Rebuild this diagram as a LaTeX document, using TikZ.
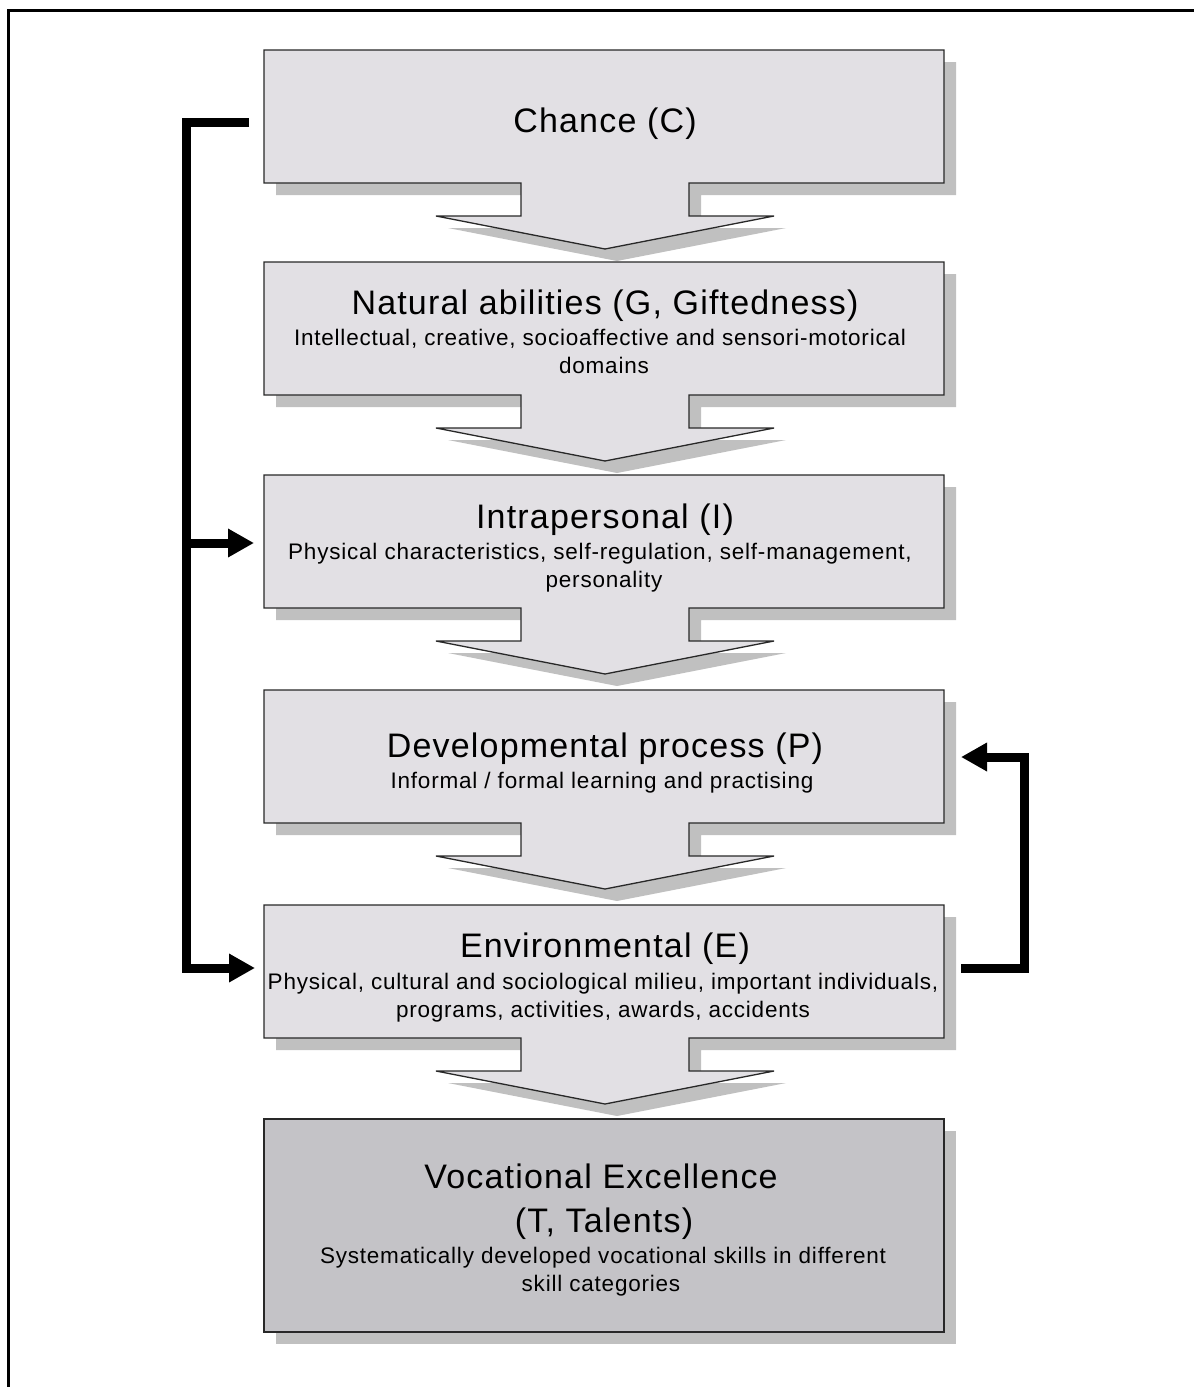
\documentclass[tikz,border=0pt]{standalone}
\usepackage{fontspec}
\setmainfont{Liberation Sans}
\newfontfamily\ttlfont[LetterSpace=3.5]{Liberation Sans}
\newfontfamily\subfont[LetterSpace=3.5]{Liberation Sans}
\usetikzlibrary{arrows.meta}
\definecolor{boxgray}{RGB}{226,224,228}
\definecolor{darkbox}{RGB}{196,195,199}
\definecolor{shadowgray}{RGB}{192,192,192}
\definecolor{edgecol}{RGB}{40,40,40}
\tikzset{
  shapeline/.style={draw=edgecol, line width=1.3, line join=miter},
  ttl/.style={font=\ttlfont\fontsize{34}{38}\selectfont, inner sep=0, anchor=base},
  subt/.style={font=\subfont\fontsize{22.5}{28}\selectfont, inner sep=0, anchor=base},
  link/.style={line width=9, line join=miter},
  linkarrow/.style={link, -{Triangle[length=26,width=27]}},
}
\newcommand\arrowbox[2]{%
  \fill[shadowgray, shift={(12,12)}] (264,#1) -- (944,#1) -- (944,#2) -- (689,#2) -- (689,{#2+33}) -- (774,{#2+33}) -- (605,{#2+66}) -- (436,{#2+33}) -- (521,{#2+33}) -- (521,#2) -- (264,#2) -- cycle;
  \filldraw[shapeline, fill=boxgray] (264,#1) -- (944,#1) -- (944,#2) -- (689,#2) -- (689,{#2+33}) -- (774,{#2+33}) -- (605,{#2+66}) -- (436,{#2+33}) -- (521,{#2+33}) -- (521,#2) -- (264,#2) -- cycle;
}
\begin{document}
\begin{tikzpicture}[x=1pt, y=-1pt]
\useasboundingbox (0,0) rectangle (1194,1387);
\fill[white] (0,0) rectangle (1194,1387);
\draw[line width=2.5] (8.5,1387) -- (8.5,10.5) -- (1194,10.5);

% boxes with downward arrows
\arrowbox{50}{183}
\arrowbox{262}{395}
\arrowbox{475}{608}
\arrowbox{690}{823}
\arrowbox{905}{1038}
\fill[shadowgray] (276,1131) rectangle (956,1344);
\filldraw[shapeline, fill=darkbox] (264,1119) rectangle (944,1332);

% texts
\node[ttl] (C) at (605,132) {Chance (C)};

\node[ttl] (G) at (605,314) {Natural abilities (G, Giftedness)};
\node[subt] (G1) at (600,345) {Intellectual, creative, socioaffective and sensori-motorical};
\node[subt] (G2) at (604,373) {domains};

\node[ttl] (I) at (605,528) {Intrapersonal (I)};
\node[subt] (I1) at (600,559) {Physical characteristics, self-regulation, self-management,};
\node[subt] (I2) at (604,587) {personality};

\node[ttl] (P) at (605,757) {Developmental process (P)};
\node[subt] (P1) at (602,788) {Informal / formal learning and practising};

\node[ttl] (E) at (605,957) {Environmental (E)};
\node[subt] (E1) at (603,989) {Physical, cultural and sociological milieu, important individuals,};
\node[subt] (E2) at (603,1017) {programs, activities, awards, accidents};

\node[ttl] (T) at (601,1188) {Vocational Excellence};
\node[ttl] (T2) at (604,1232) {(T, Talents)};
\node[subt] (T3) at (603,1263) {Systematically developed vocational skills in different};
\node[subt] (T4) at (601,1291) {skill categories};

% connectors
\coordinate (Cout) at (249,122);
\coordinate (Lcorner) at (186,122);
\coordinate (Ljoin) at (186,543);
\coordinate (Iin) at (254,543);
\coordinate (Ein) at (255,968);
\draw[linkarrow] (Cout) -- (Lcorner) |- (Ein);
\draw[linkarrow] (Ljoin) -- (Iin);

\coordinate (Eout) at (961,968);
\coordinate (Rcorner) at (1024,968);
\coordinate (Pin) at (961,757);
\draw[linkarrow] (Eout) -- (Rcorner) |- (Pin);
\end{tikzpicture}
\end{document}
